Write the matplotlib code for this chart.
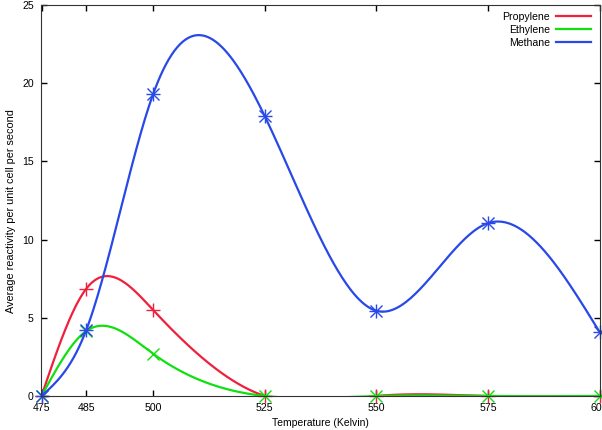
import numpy as np
import matplotlib.pyplot as plt

temps = [475, 485, 500, 525, 550, 575, 600]
propylene = [0, 6.85, 5.5, 0, 0, 0, 0]
ethylene = [0, 4.15, 2.7, 0, 0, 0, 0]
methane = [0, 4.2, 19.3, 17.9, 5.45, 11.05, 4.1]
xticks = [475, 485, 500, 525, 550, 575, 600]


def natural_spline(x, y, n=400):
    # natural cubic spline, like gnuplot "smooth csplines"
    x = np.asarray(x, float)
    y = np.asarray(y, float)
    k = len(x)
    h = np.diff(x)
    A = np.zeros((k, k))
    b = np.zeros(k)
    A[0, 0] = 1
    A[-1, -1] = 1
    for i in range(1, k - 1):
        A[i, i - 1] = h[i - 1]
        A[i, i] = 2 * (h[i - 1] + h[i])
        A[i, i + 1] = h[i]
        b[i] = 6 * ((y[i + 1] - y[i]) / h[i] - (y[i] - y[i - 1]) / h[i - 1])
    M = np.linalg.solve(A, b)
    xs = np.linspace(x[0], x[-1], n)
    j = np.clip(np.searchsorted(x, xs) - 1, 0, k - 2)
    t0 = x[j + 1] - xs
    t1 = xs - x[j]
    hj = h[j]
    ys = (M[j] * t0**3 + M[j + 1] * t1**3) / (6 * hj) \
        + (y[j] / hj - M[j] * hj / 6) * t0 + (y[j + 1] / hj - M[j + 1] * hj / 6) * t1
    return xs, ys


plt.rcParams['font.family'] = ['Liberation Sans', 'DejaVu Sans']
fig = plt.figure(figsize=(6.02, 4.30), dpi=100)
ax = fig.add_axes([41.5 / 602, 34 / 430, 558 / 602, 391 / 430])

series = [
    ("Propylene", propylene, '#f0203c', '+'),
    ("Ethylene", ethylene, '#10e010', 'x'),
    ("Methane", methane, '#2848e8', None),
]
for name, vals, col, mk in series:
    xs, ys = natural_spline(temps, vals)
    ax.plot(xs, ys, color=col, lw=1.6, label=name)
    if mk is None:
        ax.plot(temps, vals, ls='none', marker='+', ms=10, mew=1, color=col, clip_on=False)
        ax.plot(temps, vals, ls='none', marker='x', ms=8, mew=1, color=col, clip_on=False)
    else:
        ax.plot(temps, vals, ls='none', marker=mk, ms=10 if mk == '+' else 8, mew=1,
                color=col, clip_on=False)

ax.set_xlim(475, 600)
ax.set_ylim(0, 25)
ax.set_xticks(xticks)
ax.set_yticks(range(0, 26, 5))
ax.tick_params(direction='in', length=4, width=1, top=True, right=True, labelsize=7.6)
ax.tick_params(axis='x', pad=5)
ax.tick_params(axis='y', pad=5.5)
for s in ax.spines.values():
    s.set_color('#333333')
ax.set_xlabel("Temperature (Kelvin)", fontsize=7.5, labelpad=4)
ax.set_ylabel("Average reactivity per unit cell per second", fontsize=7.8)
ax.yaxis.set_label_coords(-0.046, 0.473)

leg = ax.legend(loc='upper right', frameon=False, fontsize=7.6, markerfirst=False,
                handlelength=3.3, handletextpad=0.6, labelspacing=0.28,
                borderaxespad=0.25, bbox_to_anchor=(0.997, 1.0))
for t in leg.get_texts():
    t.set_ha('right')

fig.savefig('out.png', dpi=100)
